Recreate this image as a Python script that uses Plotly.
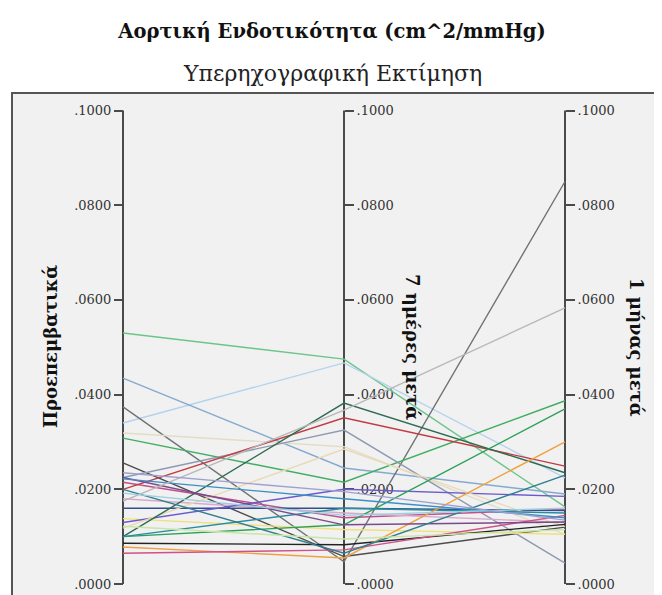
import plotly.graph_objects as go

# ---- data ----
axis_titles = ["Προεπεμβατικά", "7 ημέρες μετά", "1 μήνας μετά"]
tick_vals = [0.0, 0.02, 0.04, 0.06, 0.08, 0.10]
tick_text = [".0000", ".0200", ".0400", ".0600", ".0800", ".1000"]

pre = [0.0530, 0.0340, 0.0435, 0.0374, 0.0319, 0.0308, 0.0256, 0.0225, 0.0215, 0.0200,
       0.0180, 0.0160, 0.0138, 0.0130, 0.0118, 0.0100, 0.0100, 0.0100, 0.0086, 0.0078,
       0.0065, 0.0225, 0.0222, 0.0200, 0.0175, 0.0192, 0.0122, 0.0235]
day7 = [0.0475, 0.0467, 0.0245, 0.0047, 0.0290, 0.0215, 0.0058, 0.0325, 0.0140, 0.0351,
        0.0150, 0.0160, 0.0115, 0.0200, 0.0285, 0.0382, 0.0125, 0.0160, 0.0083, 0.0055,
        0.0072, 0.0125, 0.0180, 0.0065, 0.0367, 0.0145, 0.0095, 0.0195]
month1 = [0.0163, 0.0224, 0.0190, 0.0850, 0.0105, 0.0387, 0.0120, 0.0044, 0.0158, 0.0249,
          0.0130, 0.0155, 0.0105, 0.0185, 0.0121, 0.0235, 0.0370, 0.0150, 0.0126, 0.0300,
          0.0145, 0.0131, 0.0140, 0.0230, 0.0583, 0.0160, 0.0115, 0.0135]
colors = ["#6cc48a", "#b4d2ee", "#85a9cf", "#6e7476", "#e3dcc6", "#3fae62", "#4c4c4c", "#8e9ab0",
          "#c0508c", "#c23a42", "#d9a8cc", "#33508e", "#f0e07c", "#6a5acd", "#e9d9b4", "#2f6b50",
          "#2ca05a", "#2a8ca0", "#222222", "#f0a040", "#d0508a", "#7a4a8a", "#3a8fc8", "#2f7f8f",
          "#b8b8b8", "#9ccfe0", "#c8e6a8", "#a0a0d0"]

# ---- geometry (page has an 8px body margin) ----
OFF = 8
W, H = 662 - OFF, 595 - OFF
ml, mt = 13 - OFF, 94 - OFF
axis_px = [123 - OFF, 344.5 - OFF, 565 - OFF]
spacing = (axis_px[2] - axis_px[0]) / 2.0
r0 = -(axis_px[0] - ml) / spacing
r1 = r0 + (W - ml) / spacing
y0_px, y1_px = 584.0 - OFF, 110.5 - OFF
ppu = (y0_px - y1_px) / 0.1
ymin = -(H - y0_px) / ppu
ymax = 0.1 + (y1_px - mt) / ppu

fig = go.Figure()
xs = [0, 1, 2]
axis_color = "#4a4a4a"
for i in range(3):
    fig.add_trace(go.Scatter(x=[xs[i], xs[i]], y=[tick_vals[0], tick_vals[-1]], mode="lines",
                             line=dict(color=axis_color, width=2),
                             showlegend=False, hoverinfo="skip"))
for a, b, c, col in zip(pre, day7, month1, colors):
    fig.add_trace(go.Scatter(x=xs, y=[a, b, c], mode="lines",
                             line=dict(color=col, width=1.4),
                             showlegend=False, hoverinfo="skip"))

font_family = "DejaVu Serif"
layout_axes = {}
sides = ["left", "right", "right"]
for i in range(3):
    name = "yaxis%d" % (i + 2)
    pos = (i - r0) / (r1 - r0)
    layout_axes[name] = dict(
        overlaying="y", range=[ymin, ymax], anchor="free", position=pos, side=sides[i],
        showline=False, automargin=False,
        ticks="outside", ticklen=9, tickwidth=2, tickcolor=axis_color,
        tickvals=tick_vals, ticktext=tick_text, showgrid=False, zeroline=False,
        tickfont=dict(family=font_family, size=13, color="#333333"),
        layer="below traces",
    )
    fig.add_trace(go.Scatter(x=[None], y=[None], yaxis="y%d" % (i + 2), mode="lines",
                             showlegend=False, hoverinfo="skip"))

fig.update_layout(
    width=W, height=H,
    margin=dict(l=ml, r=0, t=mt, b=0, pad=0, autoexpand=False),
    paper_bgcolor="white", plot_bgcolor="#f1f1f1",
    xaxis=dict(range=[r0, r1], showline=True, side="top", linecolor="#555555", linewidth=1.5,
               showticklabels=False, ticks="", showgrid=False, zeroline=False, automargin=False),
    yaxis=dict(range=[ymin, ymax], showline=True, linecolor="#555555", linewidth=1.5,
               showticklabels=False, ticks="", showgrid=False, zeroline=False, automargin=False),
    title=dict(text="<b>Αορτική Ενδοτικότητα (cm^2/mmHg)</b>", x=(332 - OFF) / W,
               xanchor="center", xref="container",
               y=1 - (31 - OFF) / H, yanchor="middle",
               font=dict(family=font_family, size=19.5, color="#111111")),
    **layout_axes,
)

fig.add_annotation(text="Υπερηχογραφική Εκτίμηση", xref="paper", yref="paper",
                   x=(332 - 13) / (W - ml), y=(H - (73 - OFF)) / (H - mt),
                   xanchor="center", yanchor="middle",
                   showarrow=False, font=dict(family=font_family, size=22, color="#222222"))

title_px = [50 - OFF, 413 - OFF, 637 - OFF]
angles = [-90, 90, 90]
for i in range(3):
    fig.add_annotation(text="<b>%s</b>" % axis_titles[i], xref="x", yref="y",
                       x=(title_px[i] - axis_px[0]) / spacing, y=(y0_px - (347 - OFF)) / ppu,
                       textangle=angles[i], showarrow=False, xanchor="center", yanchor="middle",
                       font=dict(family=font_family, size=18, color="#111111"))

fig.write_html("out.html")
